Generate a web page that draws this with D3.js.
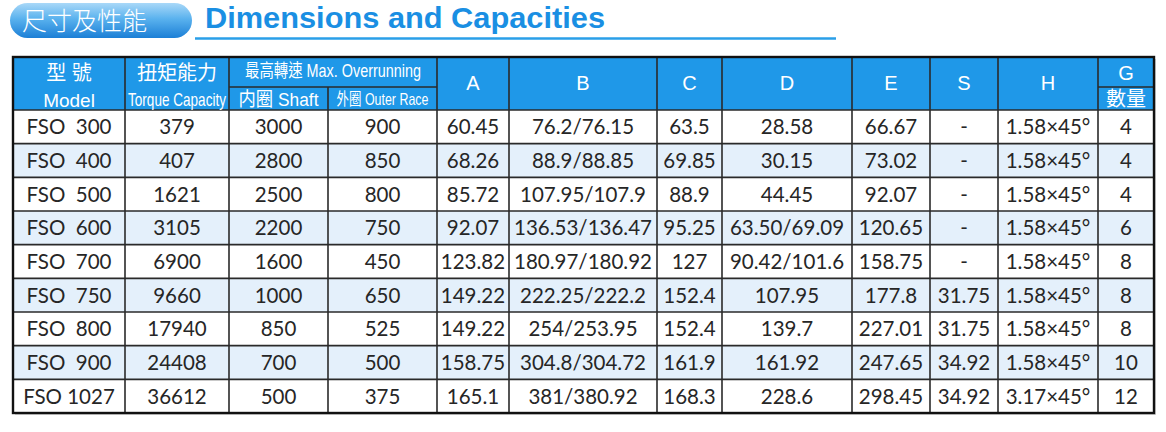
<!DOCTYPE html>
<html lang="en">
<head>
    <meta charset="utf-8">
    <title>Dimensions and Capacities</title>
    <script src="https://cdn.jsdelivr.net/npm/d3@7"></script>
</head>
<style>
    body {
        margin: 0;
        padding: 0;
        background-color: #ffffff;
    }
    .cell {
        font-family: Lato, "Open Sans", sans-serif;
        font-size: 20.5px;
        fill: #262626;
        text-anchor: middle;
        white-space: pre;
    }
    .head {
        font-family: "Liberation Sans", Arial, "Noto Sans CJK TC", sans-serif;
        fill: #ffffff;
        text-anchor: middle;
        white-space: pre;
    }
</style>
<body>
    <svg width="1166" height="432" id="chart"></svg>
    <script>
        // table values
        var models = ["FSO  300", "FSO  400", "FSO  500", "FSO  600", "FSO  700", "FSO  750", "FSO  800", "FSO  900", "FSO 1027"];
        var torque = ["379", "407", "1621", "3105", "6900", "9660", "17940", "24408", "36612"];
        var shaftSpeed = ["3000", "2800", "2500", "2200", "1600", "1000", "850", "700", "500"];
        var outerSpeed = ["900", "850", "800", "750", "450", "650", "525", "500", "375"];
        var colA = ["60.45", "68.26", "85.72", "92.07", "123.82", "149.22", "149.22", "158.75", "165.1"];
        var colB = ["76.2/76.15", "88.9/88.85", "107.95/107.9", "136.53/136.47", "180.97/180.92", "222.25/222.2", "254/253.95", "304.8/304.72", "381/380.92"];
        var colC = ["63.5", "69.85", "88.9", "95.25", "127", "152.4", "152.4", "161.9", "168.3"];
        var colD = ["28.58", "30.15", "44.45", "63.50/69.09", "90.42/101.6", "107.95", "139.7", "161.92", "228.6"];
        var colE = ["66.67", "73.02", "92.07", "120.65", "158.75", "177.8", "227.01", "247.65", "298.45"];
        var colS = ["-", "-", "-", "-", "-", "31.75", "31.75", "34.92", "34.92"];
        var colH = ["1.58×45°", "1.58×45°", "1.58×45°", "1.58×45°", "1.58×45°", "1.58×45°", "1.58×45°", "1.58×45°", "3.17×45°"];
        var colG = ["4", "4", "4", "6", "8", "8", "8", "10", "12"];

        var columns = [models, torque, shaftSpeed, outerSpeed, colA, colB, colC, colD, colE, colS, colH, colG];
        var singleHeads = ["A", "B", "C", "D", "E", "S", "H"];

        // layout
        var edges = [13, 125, 229, 328, 437, 509, 657, 722, 852, 930, 998, 1098, 1154];
        var headTop = 57, headMid = 87, headBottom = 110, tableBottom = 413;
        var blue = "#1f98e8", lightRow = "#e4f0fb", lineCol = "#2a2a2a";

        var svg = d3.select("#chart");

        var defs = svg.append("defs");
        var grad = defs.append("linearGradient").attr("id", "pill").attr("x1", 0).attr("y1", 0).attr("x2", 0).attr("y2", 1);
        grad.append("stop").attr("offset", "0%").attr("stop-color", "#a9d8f8");
        grad.append("stop").attr("offset", "45%").attr("stop-color", "#5ab2ee");
        grad.append("stop").attr("offset", "100%").attr("stop-color", "#1c7fd6");

        // Title
        svg.append("rect")
            .attr("x", 10).attr("y", 3).attr("width", 182).attr("height", 35)
            .attr("rx", 17.5).attr("fill", "url(#pill)");
        svg.append("text")
            .attr("x", 22).attr("y", 30)
            .style("font-family", "'Noto Sans CJK TC', sans-serif")
            .style("font-size", "25px").style("font-weight", 300)
            .attr("fill", "#ffffff")
            .text("尺寸及性能");
        svg.append("line")
            .attr("x1", 195).attr("x2", 836).attr("y1", 38.5).attr("y2", 38.5)
            .attr("stroke", "#2a9fe8").attr("stroke-width", 2.5);
        svg.append("text")
            .attr("x", 205).attr("y", 28)
            .style("font-family", "'Liberation Sans', Arial, sans-serif")
            .style("font-size", "30px").style("font-weight", "bold")
            .attr("fill", "#1a8fe3")
            .attr("textLength", 400).attr("lengthAdjust", "spacingAndGlyphs")
            .text("Dimensions and Capacities");

        var x = d3.scaleLinear().domain([0, edges.length - 1]).range([0, edges.length - 1]);
        function left(i) { return edges[x(i)]; }
        function right(i) { return edges[x(i) + 1]; }
        function mid(i) { return (left(i) + right(i)) / 2; }

        var y = d3.scaleBand()
            .domain(d3.range(models.length))
            .range([headBottom, tableBottom]);

        // shadow
        svg.append("rect")
            .attr("x", edges[0] + 2).attr("y", headTop + 2)
            .attr("width", edges[edges.length - 1] - edges[0]).attr("height", tableBottom - headTop)
            .attr("fill", "#d6d6d6");

        // header background
        svg.append("rect")
            .attr("x", edges[0]).attr("y", headTop)
            .attr("width", edges[edges.length - 1] - edges[0]).attr("height", headBottom - headTop)
            .attr("fill", blue);

        // body rows
        var g = svg.append("g");
        g.selectAll("rect.row")
            .data(models)
            .enter().append("rect")
            .attr("class", "row")
            .attr("x", edges[0])
            .attr("y", function (d, i) { return y(i); })
            .attr("width", edges[edges.length - 1] - edges[0])
            .attr("height", y.bandwidth())
            .attr("fill", function (d, i) { return i % 2 === 1 ? lightRow : "#ffffff"; });

        // grid lines: horizontal
        g.selectAll("line.h")
            .data(d3.range(models.length + 1))
            .enter().append("line")
            .attr("x1", edges[0]).attr("x2", edges[edges.length - 1])
            .attr("y1", function (i) { return i === models.length ? tableBottom : y(i); })
            .attr("y2", function (i) { return i === models.length ? tableBottom : y(i); })
            .attr("stroke", lineCol).attr("stroke-width", 1.6);

        // header mid lines
        [[edges[2], edges[4]], [edges[11], edges[12]]].forEach(function (seg) {
            g.append("line")
                .attr("x1", seg[0]).attr("x2", seg[1])
                .attr("y1", headMid).attr("y2", headMid)
                .attr("stroke", lineCol).attr("stroke-width", 1.6);
        });

        // vertical lines
        g.selectAll("line.v")
            .data(edges.slice(1, -1))
            .enter().append("line")
            .attr("x1", function (d) { return d; }).attr("x2", function (d) { return d; })
            .attr("y1", function (d, i) { return i === 2 ? headMid : headTop; })
            .attr("y2", tableBottom)
            .attr("stroke", lineCol).attr("stroke-width", 1.6);

        // outer border
        svg.append("rect")
            .attr("x", edges[0]).attr("y", headTop)
            .attr("width", edges[edges.length - 1] - edges[0]).attr("height", tableBottom - headTop)
            .attr("fill", "none").attr("stroke", "#111").attr("stroke-width", 2.4);

        // header texts; narrow ones are squeezed horizontally to the target width
        var head = svg.append("g");
        function headText(cx, cy, size, txt, fitWidth) {
            var t = head.append("text").attr("class", "head")
                .attr("x", 0).attr("y", 0).attr("dy", "0.36em")
                .style("font-size", size + "px")
                .text(txt);
            var sx = 1;
            if (fitWidth) {
                var w = t.node().getComputedTextLength();
                sx = Math.min(1, fitWidth / w);
            }
            t.attr("transform", "translate(" + cx + "," + cy + ") scale(" + sx + ",1)");
            return t;
        }
        headText(mid(0), 73, 20, "型 號");
        headText(mid(0), 100, 19, "Model");
        headText(mid(1), 73, 20, "扭矩能力");
        headText(mid(1), 100, 18, "Torque Capacity", 98);
        headText((left(2) + right(3)) / 2, 71, 18, "最高轉速 Max. Overrunning", 176);
        headText(mid(2), 99, 19, "内圈 Shaft", 80);
        headText(mid(3), 99, 17, "外圈 Outer Race", 92);
        singleHeads.forEach(function (h, i) {
            headText(mid(i + 4), 83, 20, h);
        });
        headText(mid(11), 73, 20, "G");
        headText(mid(11), 99, 20, "數量");

        // body texts
        columns.forEach(function (col, ci) {
            g.selectAll(null)
                .data(col)
                .enter().append("text")
                .attr("class", "cell")
                .attr("x", mid(ci))
                .attr("y", function (d, i) { return y(i) + y.bandwidth() / 2; })
                .attr("dy", "0.36em")
                .text(function (d) { return d; });
        });
    </script>
</body>
</html>
